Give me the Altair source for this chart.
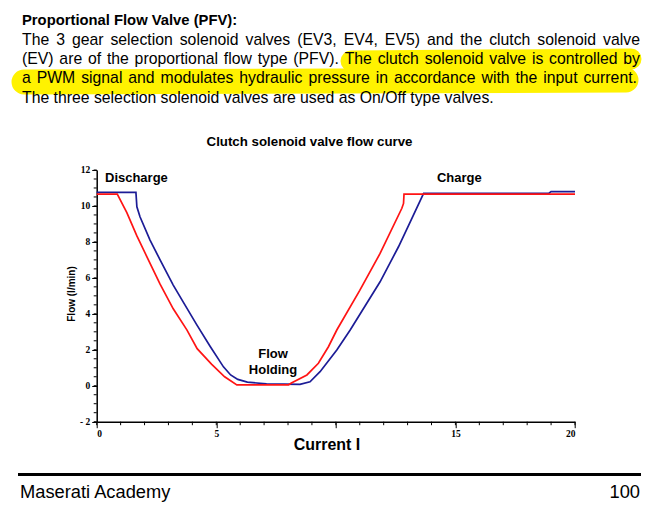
import altair as alt
import pandas as pd

# ---------------- data ----------------
red_current = [0, 0.86, 1.26, 1.67, 2.09, 2.65, 3.2, 3.77, 4.2, 4.8, 5.35, 5.86,
               8.02, 8.16, 8.79, 9.27, 9.69, 10.04, 11.0, 11.85, 12.76, 12.83, 12.85, 20]
red_flow = [10.66, 10.66, 9.63, 8.36, 7.2, 5.65, 4.28, 3.11, 2.06, 1.2, 0.5, 0.05,
            0.05, 0.17, 0.6, 1.25, 2.17, 3.1, 5.3, 7.36, 9.87, 10.14, 10.66, 10.66]

blue_current = [0, 1.64, 1.68, 1.81, 2.23, 2.65, 3.2, 3.62, 4.18, 4.74, 5.3, 5.6, 5.9,
                6.3, 7.1, 8.5, 8.92, 9.34, 10.04, 10.6, 11.85, 12.62, 13.18, 13.67,
                18.9, 19.0, 20]
blue_flow = [10.75, 10.75, 9.95, 9.4, 8.1, 7.0, 5.6, 4.65, 3.4, 2.2, 1.05, 0.6, 0.35,
             0.2, 0.1, 0.08, 0.22, 0.78, 1.99, 3.1, 5.78, 7.73, 9.31, 10.7,
             10.7, 10.8, 10.8]

y_major = [-2, 0, 2, 4, 6, 8, 10, 12]
y_minor = [-2, -1.5, -1, -0.5, 0, 0.5, 1, 1.5, 2, 2.5, 3, 3.5, 4, 4.5, 5, 5.5, 6, 6.5,
           7, 7.5, 8, 8.5, 9, 9.5, 10, 10.5, 11, 11.5, 12]
x_major = [0, 5, 10, 15, 20]
x_minor = [0, 1, 2, 3, 4, 5, 6, 7, 8, 9, 10, 11, 12, 13, 14, 15, 16, 17, 18, 19, 20]

page_title = "Proportional Flow Valve (PFV):"
body_lines = [
    "The 3 gear selection solenoid valves (EV3, EV4, EV5) and the clutch solenoid valve",
    "(EV) are of the proportional flow type (PFV). The clutch solenoid valve is controlled by",
    "a PWM signal and modulates hydraulic pressure in accordance with the input current.",
    "The three selection solenoid valves are used as On/Off type valves.",
]
chart_title = "Clutch solenoid valve flow curve"
y_title = "Flow (l/min)"
x_title = "Current I"
annotations = ["Discharge", "Charge", "Flow", "Holding"]
footer_left = "Maserati Academy"
footer_right = "100"

# ---------------- layout ----------------
X0, Y0 = 96.7, 170.0      # page position of the plot origin (x=0, y=12)
W, H = 478.3, 251.7


def vx(px):
    return px - X0


def vy(py):
    return py - Y0


SANS = "Liberation Sans, Arial, Helvetica, sans-serif"
SERIF = "Liberation Serif, Times New Roman, serif"
YELLOW = "#FFF200"

# Arial / Liberation Sans advance widths (1/1000 em) for justifying the paragraph
_W = {" ": 278, "(": 333, ")": 333, ",": 278, ".": 278, "/": 278, ":": 278, "-": 333}
_W.update({d: 556 for d in "0123456789"})
_W.update(dict(zip("ABCDEFGHIJKLMNOPQRSTUVWXYZ",
                   [667, 667, 722, 722, 667, 611, 778, 722, 278, 500, 667, 556, 833,
                    722, 778, 667, 778, 722, 667, 611, 722, 667, 944, 667, 667, 611])))
_W.update(dict(zip("abcdefghijklmnopqrstuvwxyz",
                   [556, 556, 500, 556, 556, 278, 556, 556, 222, 222, 500, 222, 833,
                    556, 556, 556, 556, 333, 500, 278, 556, 500, 722, 500, 500, 500])))


def tw(s, size):
    return sum(_W.get(c, 556) for c in s) * size / 1000.0


xs = alt.Scale(domain=[0, 20], nice=False, zero=False)
ys = alt.Scale(domain=[-2, 12], nice=False, zero=False)

x_axis = alt.Axis(values=x_major, labelExpr="datum.value == 10 ? '' : datum.label",
                  title="", grid=False, domain=True, ticks=True, labels=True,
                  domainColor="black", domainWidth=1.5,
                  tickColor="black", tickSize=6, tickWidth=1, labelFont=SERIF,
                  labelFontSize=9.5, labelFontWeight="bold", labelColor="black",
                  labelPadding=1)
y_axis = alt.Axis(values=y_major, labelExpr="datum.value == -2 ? '- 2' : datum.label",
                  title="", grid=False, domain=True, ticks=True, labels=True,
                  domainColor="black", domainWidth=1.5,
                  tickColor="black", tickSize=5, tickWidth=1, labelFont=SERIF,
                  labelFontSize=9.5, labelFontWeight="bold", labelColor="black",
                  labelPadding=2)

layers = []


def rule(x1, y1, x2, y2, color, sw, cap="butt"):
    return alt.Chart(pd.DataFrame({"k": [0]})).mark_rule(
        color=color, strokeWidth=sw, strokeCap=cap
    ).encode(x=alt.value(vx(x1)), y=alt.value(vy(y1)),
             x2=alt.value(vx(x2)), y2=alt.value(vy(y2)))


def text(s, px, py, size, weight="normal", align="left", font=SANS, angle=0,
         baseline="alphabetic"):
    props = dict(x=vx(px), y=vy(py), fontSize=size, fontWeight=weight, align=align,
                 font=font, baseline=baseline, color="black")
    if angle:
        props["angle"] = angle
    return alt.Chart(pd.DataFrame({"t": [s]})).mark_text(**props).encode(text="t:N")


# curves (first, so they own the axes)
blue_df = pd.DataFrame({"current": blue_current, "flow": blue_flow,
                        "i": list(range(len(blue_current)))})
red_df = pd.DataFrame({"current": red_current, "flow": red_flow,
                       "i": list(range(len(red_current)))})
layers.append(alt.Chart(blue_df).mark_line(color="#1c1c96", strokeWidth=1.7).encode(
    x=alt.X("current:Q", scale=xs, axis=x_axis),
    y=alt.Y("flow:Q", scale=ys, axis=y_axis),
    order="i:Q"))
layers.append(alt.Chart(red_df).mark_line(color="#ff1414", strokeWidth=1.7).encode(
    x=alt.X("current:Q", scale=xs, axis=x_axis),
    y=alt.Y("flow:Q", scale=ys, axis=y_axis),
    order="i:Q"))

# minor ticks
layers.append(alt.Chart(pd.DataFrame({"flow": y_minor})).mark_rule(
    color="black", strokeWidth=1).encode(
    y=alt.Y("flow:Q", scale=ys, axis=y_axis), x=alt.value(-3), x2=alt.value(0)))
layers.append(alt.Chart(pd.DataFrame({"current": x_minor})).mark_rule(
    color="black", strokeWidth=1).encode(
    x=alt.X("current:Q", scale=xs, axis=x_axis), y=alt.value(H), y2=alt.value(H + 3.5)))

# highlighter strokes (below text)
layers.append(rule(351, 61, 631, 59, YELLOW, 21, "round"))
layers.append(rule(24, 82, 626, 80, YELLOW, 25, "round"))

# page text
layers.append(text(page_title, 22, 25, 14.8, "bold"))
BODY = 15.8
LEFT = 22
rights = [640, 640, 637, None]
for i, ln in enumerate(body_lines):
    base_y = 45 + i * 19.2
    if rights[i] is None:
        layers.append(text(ln, LEFT, base_y, BODY))
        continue
    words = ln.split(" ")
    widths = [tw(w, BODY) for w in words]
    gap = (rights[i] - LEFT - sum(widths)) / (len(words) - 1)
    cur = LEFT
    for w, wd in zip(words, widths):
        layers.append(text(w, cur, base_y, BODY))
        cur += wd + gap

# chart title & labels
layers.append(text(chart_title, 309.5, 146, 13.3, "bold", "center"))
layers.append(text(y_title, 72, 294, 10, "bold", "center", angle=270, baseline="middle"))
layers.append(text(x_title, 327, 450, 16, "bold", "center"))
layers.append(text(annotations[0], 105, 182, 13, "bold"))
layers.append(text(annotations[1], 437, 182, 13, "bold"))
layers.append(text(annotations[2], 273, 358, 13, "bold", "center"))
layers.append(text(annotations[3], 273, 374, 13, "bold", "center"))

# footer
layers.append(rule(18, 474.5, 641, 474.5, "black", 3))
layers.append(text(footer_left, 20, 498, 18.3))
layers.append(text(footer_right, 640, 498, 18.3, align="right"))

chart = alt.layer(*layers).properties(
    width=W, height=H,
    padding={"left": X0 - 8, "top": Y0 - 8, "right": 70, "bottom": 98},
    autosize=alt.AutoSizeParams(type="none"),
    background="white",
).configure_view(stroke=None)

chart.save("out.html", embed_options={"renderer": "svg", "actions": False})
